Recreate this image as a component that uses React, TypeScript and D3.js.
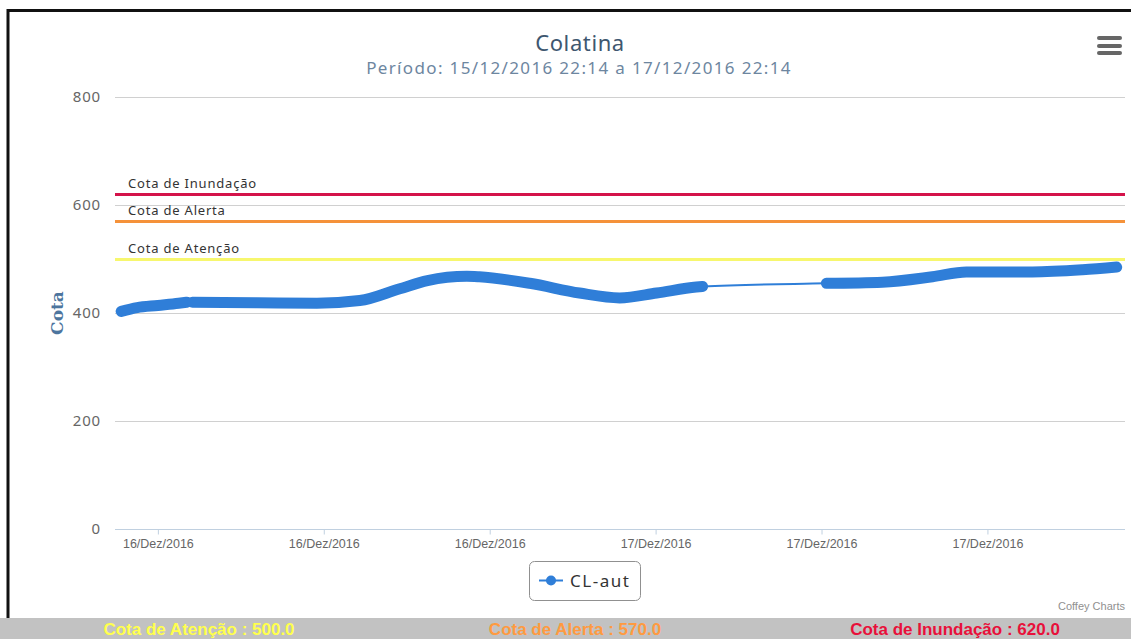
import React, { useEffect, useRef } from 'react'
import * as d3 from 'd3'

// leituras da estação CL-aut (hora local, cota em cm)
const horarios = [
  '2016-12-15T22:14', '2016-12-15T23:00', '2016-12-16T00:00', '2016-12-16T01:00', '2016-12-16T01:24',
  '2016-12-16T01:40', '2016-12-16T04:46', '2016-12-16T07:40', '2016-12-16T09:44', '2016-12-16T11:40',
  '2016-12-16T13:00', '2016-12-16T14:54', '2016-12-16T15:30', '2016-12-16T17:56', '2016-12-16T20:20',
  '2016-12-16T22:16', '2016-12-17T00:03', '2016-12-17T01:58', '2016-12-17T02:16',
  '2016-12-17T08:14', '2016-12-17T10:56', '2016-12-17T13:21', '2016-12-17T14:59', '2016-12-17T18:10',
  '2016-12-17T20:35', '2016-12-17T22:14',
]
const cotas = [
  403, 410, 414, 418, 420,
  420, 419, 418, 423, 445,
  460, 468, 467, 455, 437,
  428, 437, 448, 449,
  455, 457, 467, 476, 476,
  480, 485,
]
// falhas de transmissão (o segmento termina nestes horários)
const falhasApos = ['2016-12-16T01:24', '2016-12-17T02:16']

const cotaNomes = ['Cota de Atenção', 'Cota de Alerta', 'Cota de Inundação']
const cotaValores = [500, 570, 620]
const cotaCores = ['#f7f76e', '#f5923a', '#d4134a']
const rodapeCores = ['#ffff4d', '#ff9a40', '#e8103a']

const yTicks = [0, 200, 400, 600, 800]
const mesesAbrev = ['Jan', 'Fev', 'Mar', 'Abr', 'Mai', 'Jun', 'Jul', 'Ago', 'Set', 'Out', 'Nov', 'Dez']

const W = 1131
const H = 639
const azul = '#2f7ed8'

export default function App() {
  const ref = useRef<SVGSVGElement>(null)

  useEffect(() => {
    const svg = d3.select(ref.current)
    svg.selectAll('*').remove()

    const left = 115, right = 1125, top = 97, bottom = 529

    const dados = horarios.map((h, i) => ({ t: new Date(h), v: cotas[i] }))

    const x = d3.scaleTime()
      .domain([new Date('2016-12-15T21:56'), new Date('2016-12-17T22:38')])
      .range([left, right])
    const y = d3.scaleLinear().domain([0, 800]).range([bottom, top])

    // moldura
    svg.append('rect').attr('x', 0).attr('y', 0).attr('width', W).attr('height', H).attr('fill', '#fff')
    svg.append('line').attr('x1', 7).attr('x2', W).attr('y1', 10.5).attr('y2', 10.5)
      .attr('stroke', '#111').attr('stroke-width', 3)
    svg.append('line').attr('x1', 8).attr('x2', 8).attr('y1', 9).attr('y2', 618)
      .attr('stroke', '#111').attr('stroke-width', 3)

    // titulo
    svg.append('text').attr('x', 580).attr('y', 51).attr('text-anchor', 'middle')
      .attr('font-family', 'Noto Sans, sans-serif').attr('font-size', 22).attr('fill', '#3e576f')
      .attr('letter-spacing', 0.6)
      .text('Colatina')
    svg.append('text').attr('x', 579).attr('y', 74).attr('text-anchor', 'middle')
      .attr('font-family', 'Noto Sans, sans-serif').attr('font-size', 17).attr('fill', '#6d869f')
      .attr('letter-spacing', 1.35)
      .text('Período: 15/12/2016 22:14 a 17/12/2016 22:14')

    // menu
    ;[38, 46, 53].forEach(yy => {
      svg.append('line').attr('x1', 1099).attr('x2', 1120).attr('y1', yy).attr('y2', yy)
        .attr('stroke', '#666').attr('stroke-width', 4).attr('stroke-linecap', 'round')
    })

    // grade e eixo Y
    const gy = svg.append('g')
    gy.selectAll('line').data(yTicks.filter(d => d > 0)).enter().append('line')
      .attr('x1', left).attr('x2', right)
      .attr('y1', d => Math.round(y(d)) + 0.5).attr('y2', d => Math.round(y(d)) + 0.5)
      .attr('stroke', '#d0d0d0')
    gy.selectAll('text').data(yTicks).enter().append('text')
      .attr('x', 101).attr('y', d => y(d) + 5).attr('text-anchor', 'end')
      .attr('font-family', 'Noto Sans, sans-serif').attr('font-size', 15).attr('fill', '#666')
      .attr('letter-spacing', 0.8)
      .text(d => String(d))
    svg.append('text')
      .attr('transform', `translate(63, ${(top + bottom) / 2}) rotate(-90)`)
      .attr('text-anchor', 'middle').attr('font-family', 'DejaVu Serif, serif')
      .attr('font-weight', 'bold').attr('font-size', 17).attr('fill', '#4d759e')
      .text('Cota')

    // eixo X
    const xAxis = d3.axisBottom(x)
      .ticks(d3.timeHour.every(8))
      .tickSize(5)
      .tickFormat(d => {
        const dt = d as Date
        return `${d3.timeFormat('%d')(dt)}/${mesesAbrev[dt.getMonth()]}/${dt.getFullYear()}`
      })
    const gx = svg.append('g').attr('transform', `translate(0, ${bottom + 0.5})`).call(xAxis)
    gx.select('.domain').attr('stroke', '#c0d0e0').attr('d', `M${left},0H${right}`)
    gx.selectAll('.tick line').attr('stroke', '#c0d0e0')
    gx.selectAll('.tick text').attr('y', 10).attr('font-family', 'Liberation Sans, Arial, sans-serif')
      .attr('font-size', 12.5).attr('fill', '#666')

    // cotas de referencia
    cotaValores.forEach((v, i) => {
      const yy = Math.round(y(v)) + 0.5
      svg.append('line').attr('x1', left).attr('x2', right).attr('y1', yy).attr('y2', yy)
        .attr('stroke', cotaCores[i]).attr('stroke-width', 3)
      svg.append('text').attr('x', left + 13).attr('y', yy - 7)
        .attr('font-family', 'Noto Sans, sans-serif').attr('font-size', 13).attr('fill', '#333')
        .attr('letter-spacing', 0.8)
        .text(cotaNomes[i])
    })

    // serie
    const linha = d3.line<{ t: Date; v: number }>()
      .x(d => x(d.t)).y(d => y(d.v)).curve(d3.curveMonotoneX)
    svg.append('path').datum(dados).attr('d', linha)
      .attr('fill', 'none').attr('stroke', azul).attr('stroke-width', 2)

    const cortes = falhasApos.map(h => +new Date(h))
    const segmentos: { t: Date; v: number }[][] = [[]]
    dados.forEach(d => {
      segmentos[segmentos.length - 1].push(d)
      if (cortes.includes(+d.t)) segmentos.push([])
    })
    segmentos.filter(s => s.length).forEach(s => {
      svg.append('path').datum(s).attr('d', linha)
        .attr('fill', 'none').attr('stroke', azul).attr('stroke-width', 11)
        .attr('stroke-linecap', 'round').attr('stroke-linejoin', 'round')
    })

    // legenda
    svg.append('rect').attr('x', 529.5).attr('y', 561.5).attr('width', 111).attr('height', 39)
      .attr('rx', 5).attr('fill', '#fff').attr('stroke', '#909090')
    svg.append('line').attr('x1', 539).attr('x2', 563).attr('y1', 580.5).attr('y2', 580.5)
      .attr('stroke', azul).attr('stroke-width', 2)
    svg.append('circle').attr('cx', 551).attr('cy', 580.5).attr('r', 5).attr('fill', azul)
    svg.append('text').attr('x', 570).attr('y', 587)
      .attr('font-family', 'Noto Sans, sans-serif').attr('font-size', 17).attr('fill', '#333')
      .attr('letter-spacing', 1.5)
      .text('CL-aut')

    svg.append('text').attr('x', 1125).attr('y', 610).attr('text-anchor', 'end')
      .attr('font-family', 'Liberation Sans, Arial, sans-serif').attr('font-size', 11).attr('fill', '#909090')
      .text('Coffey Charts')

    // rodape
    svg.append('rect').attr('x', 0).attr('y', 618).attr('width', W).attr('height', H - 618).attr('fill', '#c2c2c2')
    const centros = [199, 575, 955]
    cotaValores.forEach((v, i) => {
      svg.append('text').attr('x', centros[i]).attr('y', 635).attr('text-anchor', 'middle')
        .attr('font-family', 'Liberation Sans, Arial, sans-serif').attr('font-weight', 'bold')
        .attr('font-size', 17).attr('fill', rodapeCores[i])
        .text(`${cotaNomes[i]} : ${v.toFixed(1)}`)
    })
  }, [])

  return (
    <svg ref={ref} width={W} height={H}
      style={{ position: 'absolute', left: 0, top: 0, display: 'block' }} />
  )
}
